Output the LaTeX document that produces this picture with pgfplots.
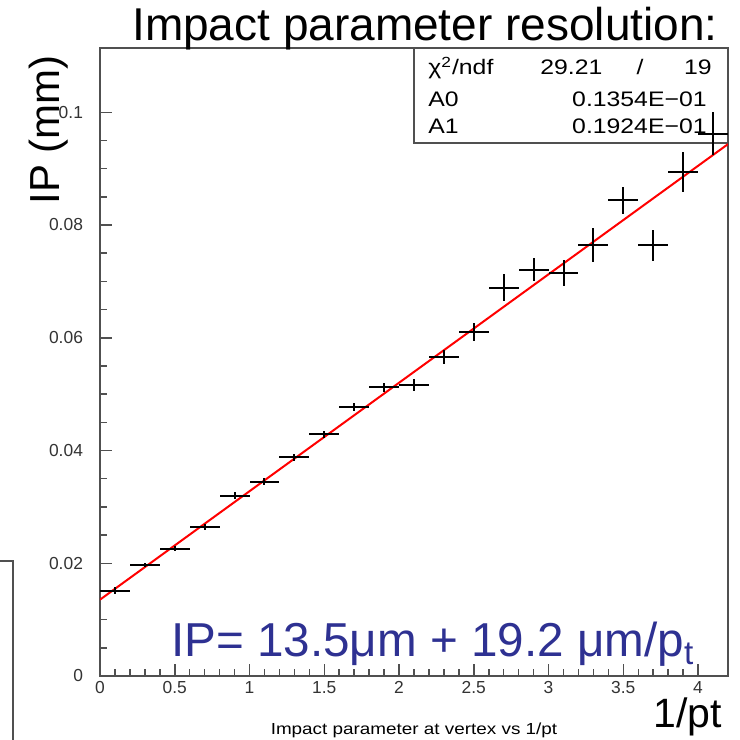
\documentclass[border=0pt]{standalone}
\usepackage{pgfplots}
\pgfplotsset{compat=1.18}
\usepackage{pgfplotstable}
\usepackage{fontspec}
\setmainfont{Liberation Sans}
\newfontfamily\rootfont[FakeStretch=1.18]{Liberation Sans}
\definecolor{ipblue}{RGB}{46,49,146}
\definecolor{framegrey}{RGB}{80,80,80}
\pgfplotstableread{
x y ex ey
0.1 0.0151 0.1 0.0006
0.3 0.0197 0.1 0.0004
0.5 0.0226 0.1 0.0005
0.7 0.0264 0.1 0.0005
0.9 0.0320 0.1 0.0006
1.1 0.0345 0.1 0.0006
1.3 0.0388 0.1 0.0006
1.5 0.0429 0.1 0.0006
1.7 0.0477 0.1 0.0007
1.9 0.0512 0.1 0.0008
2.1 0.0516 0.1 0.0010
2.3 0.0566 0.1 0.0012
2.5 0.0611 0.1 0.0016
2.7 0.0689 0.1 0.0024
2.9 0.0721 0.1 0.0021
3.1 0.0715 0.1 0.0023
3.3 0.0764 0.1 0.0030
3.5 0.0844 0.1 0.0024
3.7 0.0764 0.1 0.0027
3.9 0.0894 0.1 0.0036
4.1 0.0962 0.1 0.0038
}\ipdata
\begin{document}
\begin{tikzpicture}
\useasboundingbox (-50pt,-32pt) rectangle (320pt,338pt);
% partial box at left edge
\draw[framegrey, line width=0.75pt] (-60pt,-40pt) rectangle (-43.5pt,57.5pt);
% stats box
\draw[framegrey, line width=0.6pt] (157pt,266.5pt) rectangle (314pt,314pt);
\begin{scope}[every node/.style={inner sep=0pt, font=\rootfont\fontsize{10.5}{12}\selectfont}]
\node[anchor=base west] at (164pt,300.5pt) {χ\textsuperscript{2}/ndf};
\node[anchor=base west] at (220pt,300.5pt) {29.21};
\node[anchor=base] at (270pt,300.5pt) {/};
\node[anchor=base east] at (306pt,300.5pt) {19};
\node[anchor=base west] at (164pt,284.5pt) {A0};
\node[anchor=base east] at (303.5pt,284.5pt) {0.1354E−01};
\node[anchor=base west] at (164pt,271pt) {A1};
\node[anchor=base east] at (303.5pt,271pt) {0.1924E−01};
\end{scope}
\begin{axis}[
 scale only axis, width=314pt, height=314pt,
 xmin=0, xmax=4.2, ymin=0, ymax=0.1114,
 xtick={0,0.5,1,1.5,2,2.5,3,3.5,4},
 xticklabels={0,0.5,1,1.5,2,2.5,3,3.5,4},
 ytick={0,0.02,0.04,0.06,0.08,0.1},
 yticklabels={0,0.02,0.04,0.06,0.08,0.1},
 minor x tick num=4, minor y tick num=3,
 scaled ticks=false,
 xtick pos=bottom, ytick pos=left,
 tick align=inside,
 major tick length=6pt, minor tick length=3.3pt,
 axis line style={framegrey, line width=0.75pt},
 tick style={framegrey, line width=0.75pt},
 tick label style={font=\fontsize{8.7}{10}\selectfont, text=black!80},
 yticklabel style={xshift=-5pt},
 xticklabel style={inner sep=1pt, yshift=-1.5pt},
 clip=true,
]
\addplot[red, line width=1pt] coordinates {(0,0.01354) (4.2,0.094348)};
\addplot[draw=none, mark=none,
  error bars/.cd, x dir=both, x explicit, y dir=both, y explicit,
  error mark=none, error bar style={draw=black, line width=1pt, solid}]
  table[x=x, y=y, x error=ex, y error=ey] {\ipdata};
\end{axis}
\node[anchor=base, font=\fontsize{23}{27}\selectfont] at (162.5pt,317.5pt) {Impact parameter resolution:};
\node[anchor=base, rotate=90, font=\fontsize{21}{25}\selectfont] at (-20pt,273pt) {IP (mm)};
\node[anchor=base east, inner sep=0pt, font=\fontsize{20.5}{25}\selectfont] at (311pt,-26pt) {1/pt};
\node[anchor=base west, inner sep=0pt, text=ipblue, font=\fontsize{23.8}{29}\selectfont] at (35.5pt,9.5pt) {IP= 13.5μm + 19.2 μm/p\textsubscript{t}};
\node[anchor=base, inner sep=0pt, font=\rootfont\fontsize{8.0}{10}\selectfont] at (157pt,-29.5pt) {Impact parameter at vertex vs 1/pt};
\end{tikzpicture}
\end{document}
